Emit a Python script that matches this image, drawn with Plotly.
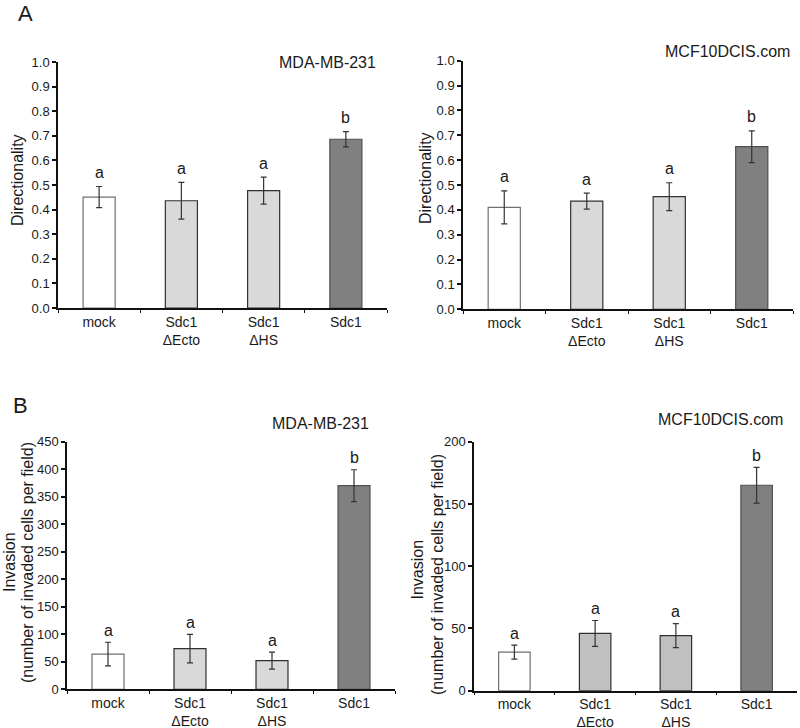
import plotly.graph_objects as go

categories = ["mock", "Sdc1<br>ΔEcto", "Sdc1<br>ΔHS", "Sdc1"]
letters = ["a", "a", "a", "b"]

dir_mda = [0.451, 0.436, 0.477, 0.686]
dir_mda_err = [0.043, 0.075, 0.055, 0.031]
dir_mcf = [0.41, 0.435, 0.453, 0.654]
dir_mcf_err = [0.066, 0.032, 0.056, 0.064]

inv_mda = [64, 74, 52, 370]
inv_mda_err = [21.5, 26, 15.5, 29]
inv_mcf = [31, 46, 44.2, 165]
inv_mcf_err = [5.6, 10.4, 9.6, 14.3]

FONT = "Liberation Sans, Arial, sans-serif"
TXT = "#1a1a1a"
W, H = 800, 728


def px(x):
    return x / W


def py(y):
    return 1 - y / H


panels = [
    dict(v=dir_mda, e=dir_mda_err, fill=["#ffffff", "#d9d9d9", "#d9d9d9", "#808080"],
         xd=(58, 387), yd=(308, 62), yr=[0, 1], dt=0.1, fmt=".1f", ls=14),
    dict(v=dir_mcf, e=dir_mcf_err, fill=["#ffffff", "#d9d9d9", "#d9d9d9", "#808080"],
         xd=(463, 793), yd=(309.3, 60.7), yr=[0, 1], dt=0.1, fmt=".1f", ls=14),
    dict(v=inv_mda, e=inv_mda_err, fill=["#ffffff", "#d9d9d9", "#d9d9d9", "#808080"],
         xd=(67, 395), yd=(689.3, 441.7), yr=[0, 450], dt=50, fmt="d", ls=12),
    dict(v=inv_mcf, e=inv_mcf_err, fill=["#ffffff", "#c0c0c0", "#c0c0c0", "#808080"],
         xd=(474, 797), yd=(690.7, 441.7), yr=[0, 200], dt=50, fmt="d", ls=12),
]

line_cols = ["#707070", "#303030", "#303030", "#505050"]

fig = go.Figure()
annotations = []
layout = {}
for i, p in enumerate(panels):
    n = "" if i == 0 else str(i + 1)
    fig.add_trace(go.Bar(
        x=categories, y=p["v"],
        marker=dict(color=p["fill"], line=dict(color=line_cols, width=1.2)),
        width=0.39,
        error_y=dict(type="data", array=p["e"], visible=True,
                     color="#333333", thickness=1.2, width=3),
        xaxis="x" + n, yaxis="y" + n, showlegend=False, hoverinfo="skip",
    ))
    layout["xaxis" + n] = dict(
        domain=[px(p["xd"][0]), px(p["xd"][1])], anchor="y" + n,
        type="category", range=[-0.5, 3.5], tickson="boundaries",
        ticks="outside", ticklen=3, tickwidth=1.2, tickcolor="#111",
        showline=True, linecolor="#111", linewidth=1.5, showgrid=False,
        automargin=False,
        tickfont=dict(family=FONT, size=14, color=TXT), fixedrange=True,
    )
    layout["yaxis" + n] = dict(
        domain=[py(p["yd"][0]), py(p["yd"][1])], anchor="x" + n,
        range=p["yr"], dtick=p["dt"], tick0=0, tickformat=p["fmt"],
        ticks="outside", ticklen=4, tickwidth=1.5, tickcolor="#111",
        showline=True, linecolor="#111", linewidth=1.5, showgrid=False,
        zeroline=False, automargin=False,
        tickfont=dict(family=FONT, size=13, color=TXT), fixedrange=True,
    )
    for j, c in enumerate(categories):
        annotations.append(dict(
            x=c, y=p["v"][j] + p["e"][j], xref="x" + n, yref="y" + n,
            text=letters[j], showarrow=False, yanchor="middle", yshift=p["ls"],
            font=dict(family=FONT, size=16, color=TXT),
        ))


def ptext(x, y, text, size, angle=0):
    annotations.append(dict(
        x=px(x), y=py(y), xref="paper", yref="paper", text=text,
        showarrow=False, xanchor="center", yanchor="middle", textangle=angle,
        font=dict(family=FONT, size=size, color=TXT),
    ))


ptext(25, 13, "A", 22)
ptext(20, 405, "B", 22)
ptext(327, 62, "MDA-MB-231", 16)
ptext(727, 52, "MCF10DCIS.com", 16)
ptext(320, 423, "MDA-MB-231", 16)
ptext(720, 420, "MCF10DCIS.com", 16)
ptext(17, 180, "Directionality", 16, -90)
ptext(425, 178, "Directionality", 16, -90)
ptext(9, 562, "Invasion", 16, -90)
ptext(27, 563, "(number of invaded cells per field)", 16, -90)
ptext(416.5, 570, "Invasion", 16, -90)
ptext(437, 575, "(number of invaded cells per field)", 16, -90)

fig.update_layout(
    width=W, height=H, margin=dict(l=0, r=0, t=0, b=0, autoexpand=False),
    paper_bgcolor="white", plot_bgcolor="white",
    annotations=annotations, bargap=0.6, hovermode=False, **layout,
)

fig.write_html(
    "out.html",
    config={"displayModeBar": False},
    post_script="document.body.style.margin='0';document.body.style.overflow='hidden';",
)
